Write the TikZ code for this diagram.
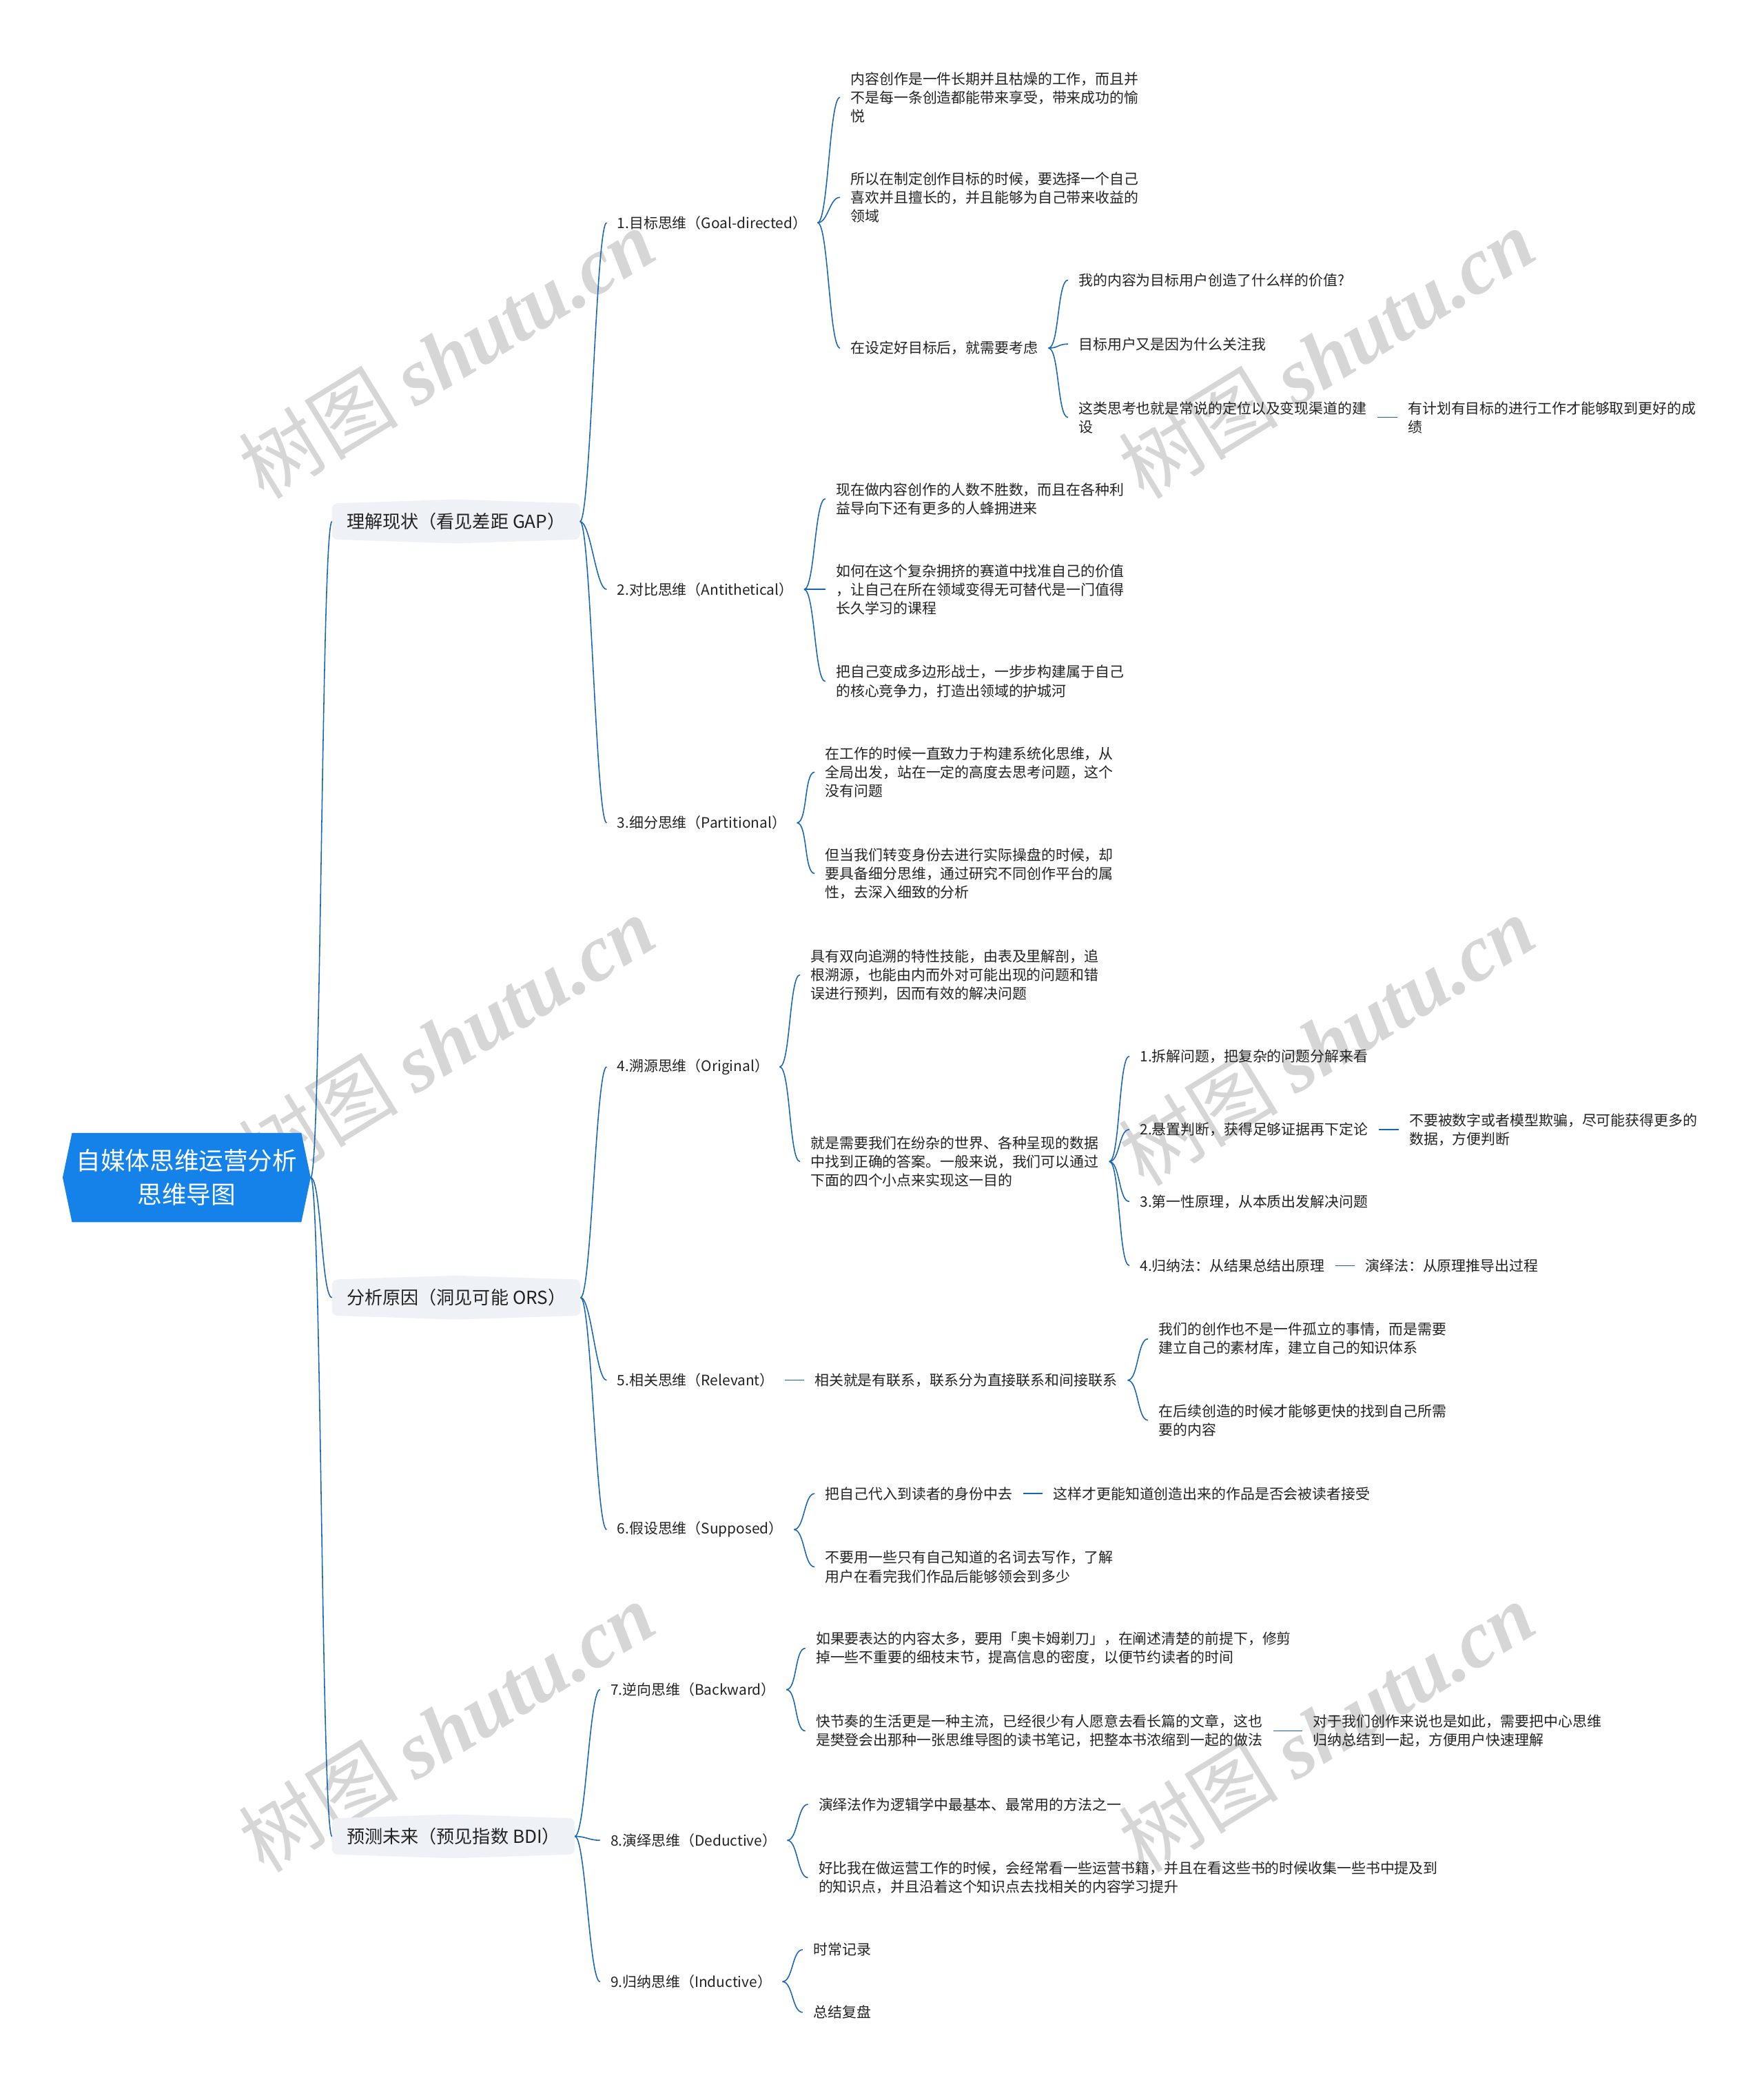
\documentclass[tikz,border=0pt]{standalone}
\usepackage{fontspec}
\setmainfont{Noto Sans CJK SC}
\newfontfamily\wmlatin{Liberation Serif}
\usetikzlibrary{calc,backgrounds}
\definecolor{linkblue}{RGB}{22,100,180}
\definecolor{rootblue}{RGB}{20,130,232}
\definecolor{topicgray}{RGB}{238,241,245}
\definecolor{inkgray}{RGB}{34,34,34}
\definecolor{markgray}{RGB}{214,214,214}
\tikzset{
  leaf/.style={anchor=west, align=left, text=inkgray, inner xsep=5pt, outer xsep=3pt, inner ysep=1pt, font=\fontsize{10.8}{14}\selectfont},
  topic/.style={anchor=west, text=inkgray, inner xsep=11pt, outer sep=0pt, minimum height=27pt, font=\fontsize{13.5}{16}\selectfont},
  root/.style={align=center, text=white, minimum width=186pt, minimum height=67pt, outer sep=0pt, font=\fontsize{18.4}{25}\selectfont},
  link/.style={draw=linkblue, line width=0.8pt, to path={.. controls +(8,0) and +(-8,0) .. (\tikztotarget)}},
  flat/.style={draw=linkblue, line width=0.8pt},
  wmark/.style={text=markgray, rotate=31.5, font=\fontsize{60}{60}\selectfont},
}
\begin{document}
\begin{tikzpicture}[x=1pt,y=-1pt]
\useasboundingbox (0,0) rectangle (1323,1568);
% centre and main topics
\node[root] (root) at (140,883) {自媒体思维运营分析\\思维导图};
\node[topic] (gap) at (249,391) {理解现状（看见差距 GAP）};
\node[topic] (ors) at (249,973) {分析原因（洞见可能 ORS）};
\node[topic] (bdi) at (249,1377) {预测未来（预见指数 BDI）};
% GAP
\node[leaf] (goal) at (455,167) {1.目标思维（Goal-directed）};
\node[leaf] (anti) at (455,442) {2.对比思维（Antithetical）};
\node[leaf] (part) at (455,617) {3.细分思维（Partitional）};
\node[leaf] (goal1) at (630,73) {内容创作是一件长期并且枯燥的工作，而且并\\不是每一条创造都能带来享受，带来成功的愉\\悦};
\node[leaf] (goal2) at (630,148) {所以在制定创作目标的时候，要选择一个自己\\喜欢并且擅长的，并且能够为自己带来收益的\\领域};
\node[leaf] (goal3) at (630,261) {在设定好目标后，就需要考虑};
\node[leaf] (goal31) at (801,210) {我的内容为目标用户创造了什么样的价值?};
\node[leaf] (goal32) at (801,258) {目标用户又是因为什么关注我};
\node[leaf] (goal33) at (801,313) {这类思考也就是常说的定位以及变现渠道的建\\设};
\node[leaf] (goal331) at (1048,313) {有计划有目标的进行工作才能够取到更好的成\\绩};
\node[leaf] (anti1) at (619,374) {现在做内容创作的人数不胜数，而且在各种利\\益导向下还有更多的人蜂拥进来};
\node[leaf] (anti2) at (619,442) {如何在这个复杂拥挤的赛道中找准自己的价值\\，让自己在所在领域变得无可替代是一门值得\\长久学习的课程};
\node[leaf] (anti3) at (619,511) {把自己变成多边形战士，一步步构建属于自己\\的核心竞争力，打造出领域的护城河};
\node[leaf] (part1) at (611,579) {在工作的时候一直致力于构建系统化思维，从\\全局出发，站在一定的高度去思考问题，这个\\没有问题};
\node[leaf] (part2) at (611,655) {但当我们转变身份去进行实际操盘的时候，却\\要具备细分思维，通过研究不同创作平台的属\\性，去深入细致的分析};
% ORS
\node[leaf] (orig) at (455,800) {4.溯源思维（Original）};
\node[leaf] (rele) at (455,1035) {5.相关思维（Relevant）};
\node[leaf] (supp) at (455,1147) {6.假设思维（Supposed）};
\node[leaf] (orig1) at (600,731) {具有双向追溯的特性技能，由表及里解剖，追\\根溯源，也能由内而外对可能出现的问题和错\\误进行预判，因而有效的解决问题};
\node[leaf] (orig2) at (600,871) {就是需要我们在纷杂的世界、各种呈现的数据\\中找到正确的答案。一般来说，我们可以通过\\下面的四个小点来实现这一目的};
\node[leaf] (orig21) at (847,792) {1.拆解问题，把复杂的问题分解来看};
\node[leaf] (orig22) at (847,847) {2.悬置判断，获得足够证据再下定论};
\node[leaf] (orig221) at (1049,847) {不要被数字或者模型欺骗，尽可能获得更多的\\数据，方便判断};
\node[leaf] (orig23) at (847,901) {3.第一性原理，从本质出发解决问题};
\node[leaf] (orig24) at (847,949) {4.归纳法：从结果总结出原理};
\node[leaf] (orig241) at (1016,949) {演绎法：从原理推导出过程};
\node[leaf] (rele1) at (603,1035) {相关就是有联系，联系分为直接联系和间接联系};
\node[leaf] (rele11) at (861,1004) {我们的创作也不是一件孤立的事情，而是需要\\建立自己的素材库，建立自己的知识体系};
\node[leaf] (rele12) at (861,1065) {在后续创造的时候才能够更快的找到自己所需\\要的内容};
\node[leaf] (supp1) at (611,1120) {把自己代入到读者的身份中去};
\node[leaf] (supp11) at (782,1120) {这样才更能知道创造出来的作品是否会被读者接受};
\node[leaf] (supp2) at (611,1175) {不要用一些只有自己知道的名词去写作，了解\\用户在看完我们作品后能够领会到多少};
% BDI
\node[leaf] (back) at (450,1267) {7.逆向思维（Backward）};
\node[leaf] (dedu) at (450,1380) {8.演绎思维（Deductive）};
\node[leaf] (indu) at (450,1486) {9.归纳思维（Inductive）};
\node[leaf] (back1) at (604,1236) {如果要表达的内容太多，要用「奥卡姆剃刀」，在阐述清楚的前提下，修剪\\掉一些不重要的细枝末节，提高信息的密度，以便节约读者的时间};
\node[leaf] (back2) at (604,1298) {快节奏的生活更是一种主流，已经很少有人愿意去看长篇的文章，这也\\是樊登会出那种一张思维导图的读书笔记，把整本书浓缩到一起的做法};
\node[leaf] (back21) at (977,1298) {对于我们创作来说也是如此，需要把中心思维\\归纳总结到一起，方便用户快速理解};
\node[leaf] (dedu1) at (606,1353) {演绎法作为逻辑学中最基本、最常用的方法之一};
\node[leaf] (dedu2) at (606,1408) {好比我在做运营工作的时候，会经常看一些运营书籍，并且在看这些书的时候收集一些书中提及到\\的知识点，并且沿着这个知识点去找相关的内容学习提升};
\node[leaf] (indu1) at (602,1462) {时常记录};
\node[leaf] (indu2) at (602,1509) {总结复盘};
% connectors
\draw[link] (root.east) to (gap.west);
\draw[link] (root.east) to (ors.west);
\draw[link] (root.east) to (bdi.west);
\draw[link] (gap.east) to (goal.west);
\draw[link] (gap.east) to (anti.west);
\draw[link] (gap.east) to (part.west);
\draw[link] (goal.east) to (goal1.west);
\draw[link] (goal.east) to (goal2.west);
\draw[link] (goal.east) to (goal3.west);
\draw[link] (goal3.east) to (goal31.west);
\draw[link] (goal3.east) to (goal32.west);
\draw[link] (goal3.east) to (goal33.west);
\draw[flat] (goal33.east) -- (goal331.west);
\draw[link] (anti.east) to (anti1.west);
\draw[link] (anti.east) to (anti2.west);
\draw[link] (anti.east) to (anti3.west);
\draw[link] (part.east) to (part1.west);
\draw[link] (part.east) to (part2.west);
\draw[link] (ors.east) to (orig.west);
\draw[link] (ors.east) to (rele.west);
\draw[link] (ors.east) to (supp.west);
\draw[link] (orig.east) to (orig1.west);
\draw[link] (orig.east) to (orig2.west);
\draw[link] (orig2.east) to (orig21.west);
\draw[link] (orig2.east) to (orig22.west);
\draw[link] (orig2.east) to (orig23.west);
\draw[link] (orig2.east) to (orig24.west);
\draw[flat] (orig22.east) -- (orig221.west);
\draw[flat] (orig24.east) -- (orig241.west);
\draw[flat] (rele.east) -- (rele1.west);
\draw[link] (rele1.east) to (rele11.west);
\draw[link] (rele1.east) to (rele12.west);
\draw[link] (supp.east) to (supp1.west);
\draw[link] (supp.east) to (supp2.west);
\draw[flat] (supp1.east) -- (supp11.west);
\draw[link] (bdi.east) to (back.west);
\draw[link] (bdi.east) to (dedu.west);
\draw[link] (bdi.east) to (indu.west);
\draw[link] (back.east) to (back1.west);
\draw[link] (back.east) to (back2.west);
\draw[flat] (back2.east) -- (back21.west);
\draw[link] (dedu.east) to (dedu1.west);
\draw[link] (dedu.east) to (dedu2.west);
\draw[link] (indu.east) to (indu1.west);
\draw[link] (indu.east) to (indu2.west);
% watermarks and boxes behind
\begin{scope}[on background layer]
\node[wmark] (wm1) at (335,265) {树图 {\wmlatin\itshape\bfseries shutu.cn}};
\node[wmark] (wm2) at (995,265) {树图 {\wmlatin\itshape\bfseries shutu.cn}};
\node[wmark] (wm3) at (335,780) {树图 {\wmlatin\itshape\bfseries shutu.cn}};
\node[wmark] (wm4) at (995,780) {树图 {\wmlatin\itshape\bfseries shutu.cn}};
\node[wmark] (wm5) at (335,1295) {树图 {\wmlatin\itshape\bfseries shutu.cn}};
\node[wmark] (wm6) at (995,1295) {树图 {\wmlatin\itshape\bfseries shutu.cn}};
\fill[rootblue] ($(root.north west)+(7,0)$) -- (root.west) -- ($(root.south west)+(7,0)$)
  -- ($(root.south east)+(-7,0)$) -- (root.east) -- ($(root.north east)+(-7,0)$) -- cycle;
\fill[topicgray, rounded corners=4pt] (gap.south west) -- (gap.north west) -- ($(gap.north)+(0,-3)$)
  -- (gap.north east) -- (gap.south east) -- ($(gap.south)+(0,3)$) -- cycle;
\fill[topicgray, rounded corners=4pt] (ors.south west) -- (ors.north west) -- ($(ors.north)+(0,-3)$)
  -- (ors.north east) -- (ors.south east) -- ($(ors.south)+(0,3)$) -- cycle;
\fill[topicgray, rounded corners=4pt] (bdi.south west) -- (bdi.north west) -- ($(bdi.north)+(0,-3)$)
  -- (bdi.north east) -- (bdi.south east) -- ($(bdi.south)+(0,3)$) -- cycle;
\end{scope}
\end{tikzpicture}
\end{document}
